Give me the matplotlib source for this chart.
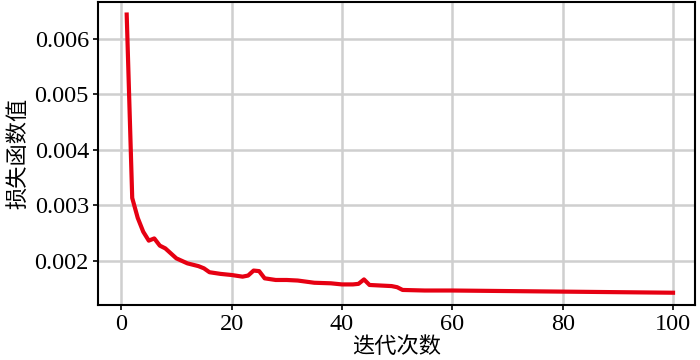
import matplotlib
matplotlib.use("Agg")
import matplotlib.pyplot as plt
from matplotlib.ticker import FormatStrFormatter

# values
iters = [1, 2, 3, 4, 5, 6, 7, 8, 10, 12, 14, 15, 16, 18, 20, 22, 23, 24, 25, 26,
         28, 30, 32, 35, 38, 40, 42, 43, 44, 45, 47, 49, 50, 51, 55, 60, 70, 80, 90, 100]
loss = [0.00644, 0.00313, 0.00277, 0.00252, 0.00236, 0.00240, 0.00227, 0.00222,
        0.00204, 0.00195, 0.00190, 0.00186, 0.00179, 0.00176, 0.00174, 0.00171,
        0.00173, 0.00182, 0.00181, 0.00168, 0.00165, 0.00165, 0.00164, 0.00160,
        0.00159, 0.00157, 0.00157, 0.00158, 0.00166, 0.00156, 0.00155, 0.00154,
        0.00152, 0.00147, 0.00146, 0.00146, 0.00145, 0.00144, 0.00143, 0.00142]
xticks = [0, 20, 40, 60, 80, 100]
yticks = [0.002, 0.003, 0.004, 0.005, 0.006]

plt.rcParams["font.family"] = ["Liberation Serif", "Noto Sans CJK SC"]
plt.rcParams["font.size"] = 17.5

fig = plt.figure(figsize=(7, 3.6), dpi=100)
ax = fig.add_axes([0.14, 0.153, 0.853, 0.842])
ax.plot(iters, loss, color="#e60012", lw=3.0, solid_joinstyle="round")

ax.set_xlim(-4.2, 104)
ax.set_ylim(0.0012, 0.00667)
ax.set_xticks(xticks)
ax.set_yticks(yticks)
ax.yaxis.set_major_formatter(FormatStrFormatter("%.3f"))
ax.grid(True, color="#cfcfcf", lw=1.8)
ax.set_axisbelow(True)
for s in ax.spines.values():
    s.set_linewidth(1.5)
ax.tick_params(direction="out", length=3.5, width=1.2, pad=3)

ax.set_xlabel("迭代次数", family=["Noto Sans CJK SC"], fontsize=16, labelpad=0)
ax.set_ylabel("损失函数值", family=["Noto Sans CJK SC"], fontsize=16, labelpad=4)

fig.savefig("out.png", dpi=100)
